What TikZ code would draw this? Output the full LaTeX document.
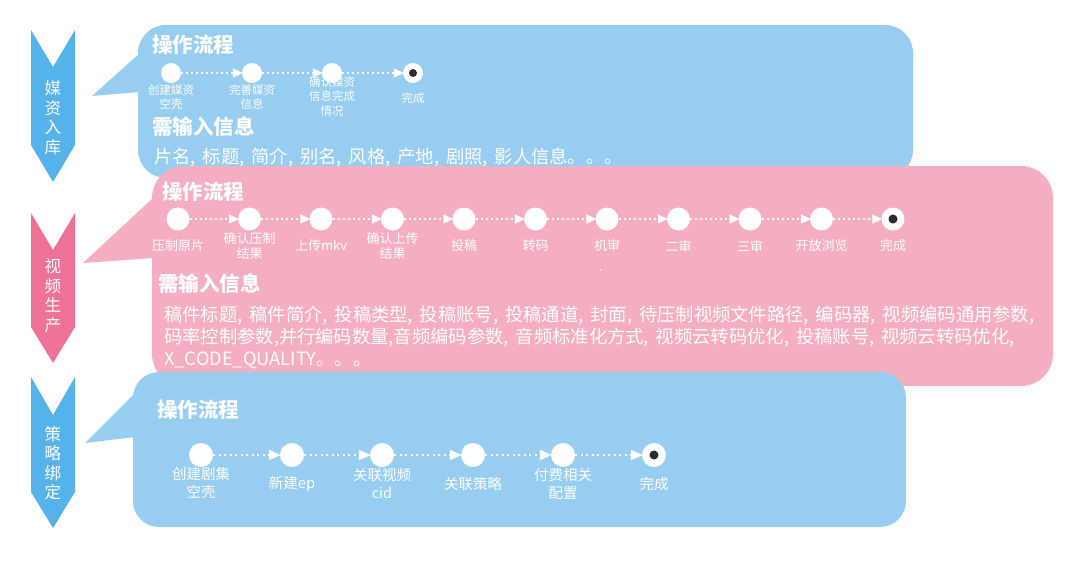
\documentclass[tikz,border=0pt]{standalone}
\usepackage{fontspec}
\setmainfont{Noto Sans CJK SC}
\newfontfamily\bodyfont[WordSpace=1.7]{Noto Sans CJK SC}
\usetikzlibrary{arrows.meta}
\definecolor{pblue}{HTML}{96CDF0}
\definecolor{ppink}{HTML}{F4ADC1}
\definecolor{cblue}{HTML}{55B2EA}
\definecolor{cpink}{HTML}{EE7196}
\definecolor{dotc}{HTML}{2B2B2B}
\begin{document}
\begin{tikzpicture}[x=1pt,y=-1pt,
  ctext/.style={text=white,inner sep=0pt,align=center,font=\fontsize{16.5}{19.5}\selectfont},
  head/.style={text=white,inner sep=0pt,anchor=west,font=\fontsize{20.5}{24}\selectfont\bfseries},
  body/.style={text=white,inner sep=0pt,anchor=west,align=left,font=\bodyfont\fontsize{18.3}{22}\selectfont},
  stA/.style={circle,fill=white,inner sep=0pt,minimum size=20pt},
  stB/.style={circle,fill=white,inner sep=0pt,minimum size=23pt},
  stC/.style={circle,fill=white,inner sep=0pt,minimum size=24pt},
  endA/.style={path picture={\fill[dotc] (path picture bounding box.center) circle (4pt);}},
  endB/.style={path picture={\fill[dotc] (path picture bounding box.center) circle (4.5pt);}},
  labA/.style={text=white,inner sep=0pt,align=center,font=\fontsize{11.5}{14.5}\selectfont},
  labB/.style={text=white,inner sep=0pt,align=center,font=\fontsize{13}{15}\selectfont},
  labC/.style={text=white,inner sep=0pt,align=center,font=\fontsize{14.5}{18}\selectfont},
  flowA/.style={white,line width=2pt,dash pattern=on 2pt off 3pt,-{Triangle[length=10pt,width=9pt]},shorten >=-1pt},
  flowB/.style={white,line width=2.2pt,dash pattern=on 2.2pt off 3.3pt,-{Triangle[length=12pt,width=10pt]},shorten >=-1pt},
]
\useasboundingbox (0,0) rectangle (1080,563);

% chevrons
\fill[cblue] (31,30) -- (53,67) -- (75,30) -- (75,145) -- (53,182) -- (31,145) -- cycle;
\fill[cpink] (31,213) -- (53,250) -- (75,213) -- (75,327) -- (53,363) -- (31,327) -- cycle;
\fill[cblue] (31,377) -- (53,415) -- (75,377) -- (75,492) -- (53,528) -- (31,492) -- cycle;
\node[ctext] (c1) at (53,118) {媒\\资\\入\\库};
\node[ctext] (c2) at (53,296) {视\\频\\生\\产};
\node[ctext] (c3) at (53,463) {策\\略\\绑\\定};

% ---------- top panel ----------
\fill[pblue,rounded corners=28pt] (138,25) rectangle (913,178);
\fill[pblue] (140,53) -- (92,96) -- (140,92) -- cycle;
\node[head] (h1) at (152,45) {操作流程};
\node[stA] (a1) at (171,73) {};
\node[stA] (a2) at (252,73) {};
\node[stA] (a3) at (332,73) {};
\node[stA,endA] (a4) at (413,73) {};
\draw[flowA] (a1) -- (a2);
\draw[flowA] (a2) -- (a3);
\draw[flowA] (a3) -- (a4);
\node[labA] (la1) at (171,97) {创建媒资\\空壳};
\node[labA] (la2) at (252,97) {完善媒资\\信息};
\node[labA] (la3) at (332,96.5) {确认媒资\\信息完成\\情况};
\node[labA] (la4) at (413,98) {完成};
\node[head] (n1) at (152,127) {需输入信息};
\node[body] (b1) at (154,157) {片名, 标题, 简介, 别名, 风格, 产地, 剧照, 影人信息。。。};

% ---------- middle panel ----------
\fill[ppink,rounded corners=32pt] (152,166) rectangle (1053,386);
\fill[ppink] (154,197) -- (83,263) -- (154,258) -- cycle;
\node[head] (h2) at (162,192) {操作流程};
\node[stB] (m1) at (178,219) {};
\node[stB] (m2) at (249.5,219) {};
\node[stB] (m3) at (321,219) {};
\node[stB] (m4) at (392.5,219) {};
\node[stB] (m5) at (464,219) {};
\node[stB] (m6) at (535.5,219) {};
\node[stB] (m7) at (607,219) {};
\node[stB] (m8) at (678.5,219) {};
\node[stB] (m9) at (750,219) {};
\node[stB] (m10) at (821.5,219) {};
\node[stB,endB] (m11) at (893,219) {};
\draw[flowA] (m1) -- (m2);
\draw[flowA] (m2) -- (m3);
\draw[flowA] (m3) -- (m4);
\draw[flowA] (m4) -- (m5);
\draw[flowA] (m5) -- (m6);
\draw[flowA] (m6) -- (m7);
\draw[flowA] (m7) -- (m8);
\draw[flowA] (m8) -- (m9);
\draw[flowA] (m9) -- (m10);
\draw[flowA] (m10) -- (m11);
\node[labB] (lm1) at (178,246) {压制原片};
\node[labB] (lm2) at (249.5,246) {确认压制\\结果};
\node[labB] (lm3) at (321,246) {上传mkv};
\node[labB] (lm4) at (392.5,246) {确认上传\\结果};
\node[labB] (lm5) at (464,246) {投稿};
\node[labB] (lm6) at (535.5,246) {转码};
\node[labB] (lm7) at (607,246) {机审};
\node[labB] (lm8) at (678.5,246) {二审};
\node[labB] (lm9) at (750,246) {三审};
\node[labB] (lm10) at (821.5,246) {开放浏览};
\node[labB] (lm11) at (893,246) {完成};
\node[labB] (dot) at (601,271) {.};
\node[head] (n2) at (158,284) {需输入信息};
\node[body] (b2) at (164,337) {稿件标题, 稿件简介, 投稿类型, 投稿账号, 投稿通道, 封面, 待压制视频文件路径, 编码器, 视频编码通用参数,\\码率控制参数,并行编码数量,音频编码参数, 音频标准化方式, 视频云转码优化, 投稿账号, 视频云转码优化,\\X\_CODE\_QUALITY。。。};

% ---------- bottom panel ----------
\fill[pblue,rounded corners=26pt] (133,372) rectangle (906,527);
\fill[pblue] (135,393) -- (85,443) -- (135,437) -- cycle;
\node[head] (h3) at (157,410) {操作流程};
\node[stC] (s1) at (201,455) {};
\node[stC] (s2) at (292,455) {};
\node[stC] (s3) at (382,455) {};
\node[stC] (s4) at (473,455) {};
\node[stC] (s5) at (563,455) {};
\node[stC,endB] (s6) at (654,455) {};
\draw[flowB] (s1) -- (s2);
\draw[flowB] (s2) -- (s3);
\draw[flowB] (s3) -- (s4);
\draw[flowB] (s4) -- (s5);
\draw[flowB] (s5) -- (s6);
\node[labC] (ls1) at (201,483) {创建剧集\\空壳};
\node[labC] (ls2) at (292,484) {新建ep};
\node[labC] (ls3) at (382,483) {关联视频\\cid};
\node[labC] (ls4) at (473,484) {关联策略};
\node[labC] (ls5) at (563,484) {付费相关\\配置};
\node[labC] (ls6) at (654,484) {完成};
\end{tikzpicture}
\end{document}
